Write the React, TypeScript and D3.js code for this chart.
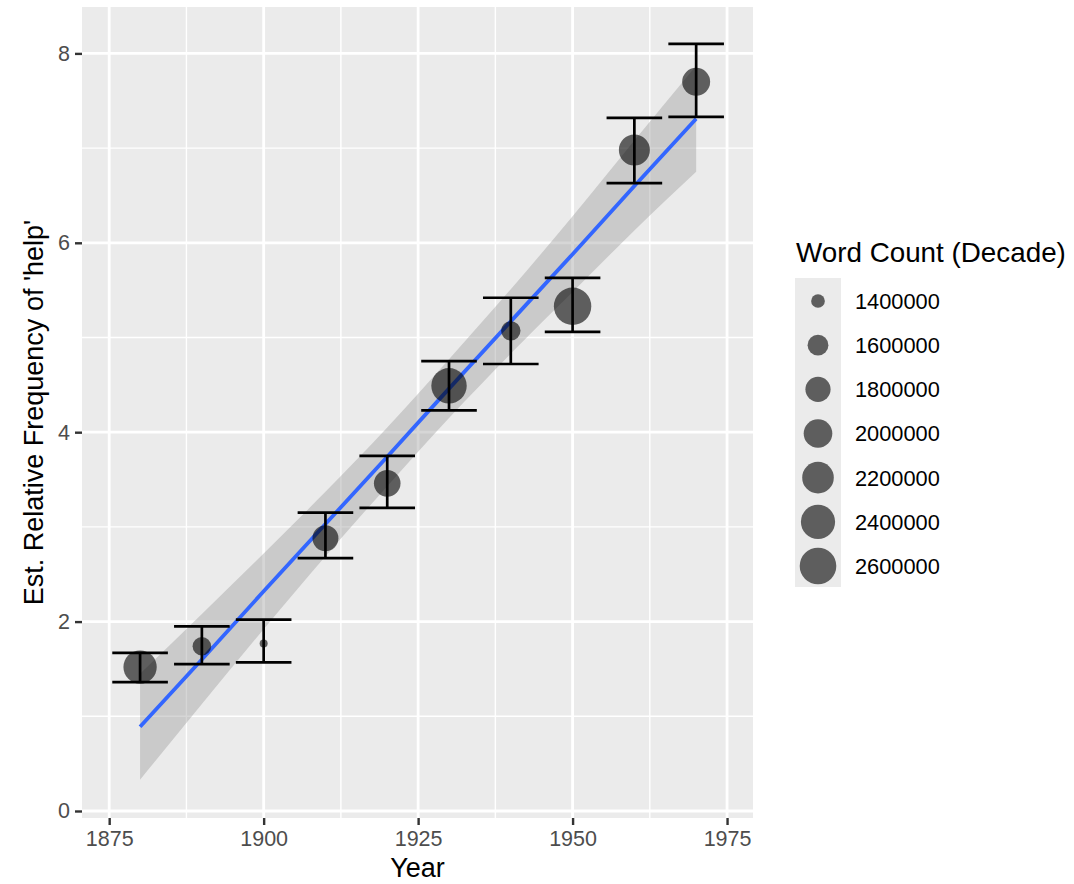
import React, { useRef, useEffect } from 'react';
import * as d3 from 'd3';

// decade estimates
const years = [1880, 1890, 1900, 1910, 1920, 1930, 1940, 1950, 1960, 1970];
const freq = [1.52, 1.74, 1.77, 2.88, 3.46, 4.49, 5.07, 5.33, 6.98, 7.70];
const errLow = [1.36, 1.55, 1.57, 2.67, 3.20, 4.23, 4.72, 5.06, 6.63, 7.33];
const errHigh = [1.67, 1.95, 2.02, 3.15, 3.75, 4.75, 5.42, 5.63, 7.32, 8.10];
const wordCount = [2330000, 1520000, 1350000, 1840000, 1880000, 2500000, 1550000, 2670000, 2160000, 1960000];

// lm smooth (fit and confidence band)
const smoothYears = [1880, 1890, 1900, 1910, 1920, 1930, 1940, 1950, 1960, 1970];
const smoothFit = [0.89, 1.6, 2.32, 3.03, 3.74, 4.46, 5.17, 5.88, 6.6, 7.31];
const smoothLower = [0.33, 1.13, 1.92, 2.69, 3.43, 4.15, 4.83, 5.48, 6.13, 6.75];
const smoothUpper = [1.45, 2.08, 2.72, 3.37, 4.05, 4.77, 5.51, 6.28, 7.08, 7.87];

const xTicks = [1875, 1900, 1925, 1950, 1975];
const xMinor = [1887.5, 1912.5, 1937.5, 1962.5];
const yTicks = [0, 2, 4, 6, 8];
const yMinor = [1, 3, 5, 7];
const sizeBreaks = [1400000, 1600000, 1800000, 2000000, 2200000, 2400000, 2600000];

const FONT = "'Liberation Sans', Arial, Helvetica, sans-serif";

const App = () => {
  const ref = useRef<SVGSVGElement>(null);

  useEffect(() => {
    const svg = d3.select(ref.current);
    svg.selectAll('*').remove();
    svg.attr('width', 1074).attr('height', 884).style('font-family', FONT);

    const left = 82, right = 753, top = 7, bottom = 818;

    const x = d3.scaleLinear().domain([1870.6, 1979.2]).range([left, right]);
    const y = d3.scaleLinear().domain([-0.074, 8.49]).range([bottom, top]);

    const sizeT = d3.scaleLinear().domain([1350000, 2670000]).range([0, 1]).clamp(true);
    const rScale = d3.scaleLinear().domain([0, 1]).range([4, 18.7]);
    const radius = (v: number) => rScale(Math.sqrt(sizeT(v)));

    // panel
    svg.append('rect')
      .attr('x', left).attr('y', top)
      .attr('width', right - left).attr('height', bottom - top)
      .attr('fill', '#EBEBEB');

    const grid = svg.append('g');
    xMinor.forEach((v) => {
      grid.append('line').attr('x1', x(v)).attr('x2', x(v)).attr('y1', top).attr('y2', bottom)
        .attr('stroke', '#fff').attr('stroke-width', 1.4);
    });
    yMinor.forEach((v) => {
      grid.append('line').attr('x1', left).attr('x2', right).attr('y1', y(v)).attr('y2', y(v))
        .attr('stroke', '#fff').attr('stroke-width', 1.4);
    });
    xTicks.forEach((v) => {
      grid.append('line').attr('x1', x(v)).attr('x2', x(v)).attr('y1', top).attr('y2', bottom)
        .attr('stroke', '#fff').attr('stroke-width', 2.8);
    });
    yTicks.forEach((v) => {
      grid.append('line').attr('x1', left).attr('x2', right).attr('y1', y(v)).attr('y2', y(v))
        .attr('stroke', '#fff').attr('stroke-width', 2.8);
    });

    // smooth band + line
    const band = d3.area<number>()
      .x((d, i) => x(smoothYears[i]))
      .y0((d, i) => y(smoothLower[i]))
      .y1((d, i) => y(smoothUpper[i]))
      .curve(d3.curveMonotoneX);
    svg.append('path').datum(smoothYears)
      .attr('d', band)
      .attr('fill', '#999999').attr('fill-opacity', 0.4);

    const line = d3.line<number>()
      .x((d, i) => x(smoothYears[i]))
      .y((d, i) => y(smoothFit[i]));
    svg.append('path').datum(smoothYears)
      .attr('d', line)
      .attr('fill', 'none').attr('stroke', '#3366FF').attr('stroke-width', 3.8);

    // points
    years.forEach((yr, i) => {
      svg.append('circle')
        .attr('cx', x(yr)).attr('cy', y(freq[i]))
        .attr('r', radius(wordCount[i]))
        .attr('fill', '#000').attr('fill-opacity', 0.6);
    });

    // error bars
    const eb = svg.append('g').attr('stroke', '#000').attr('stroke-width', 2.7).attr('fill', 'none');
    years.forEach((yr, i) => {
      eb.append('line').attr('x1', x(yr - 4.5)).attr('x2', x(yr + 4.5))
        .attr('y1', y(errHigh[i])).attr('y2', y(errHigh[i]));
      eb.append('line').attr('x1', x(yr - 4.5)).attr('x2', x(yr + 4.5))
        .attr('y1', y(errLow[i])).attr('y2', y(errLow[i]));
      eb.append('line').attr('x1', x(yr)).attr('x2', x(yr))
        .attr('y1', y(errHigh[i])).attr('y2', y(errLow[i]));
    });

    // axes
    const xAxis = d3.axisBottom(x).tickValues(xTicks).tickSize(7).tickPadding(6).tickFormat(d3.format('d'));
    const gx = svg.append('g').attr('transform', `translate(0,${bottom})`).call(xAxis);
    gx.select('.domain').remove();
    gx.selectAll('line').attr('stroke', '#333').attr('stroke-width', 2.4);
    gx.selectAll('text').attr('font-size', '21.5px').attr('fill', '#4D4D4D').attr('font-family', FONT);

    const yAxis = d3.axisLeft(y).tickValues(yTicks).tickSize(7).tickPadding(5);
    const gy = svg.append('g').attr('transform', `translate(${left},0)`).call(yAxis);
    gy.select('.domain').remove();
    gy.selectAll('line').attr('stroke', '#333').attr('stroke-width', 2.4);
    gy.selectAll('text').attr('font-size', '21.5px').attr('fill', '#4D4D4D').attr('font-family', FONT);

    svg.append('text')
      .attr('x', (left + right) / 2).attr('y', 877)
      .attr('text-anchor', 'middle').attr('font-size', '27px').attr('fill', '#000')
      .text('Year');

    svg.append('text')
      .attr('transform', `translate(43,${(top + bottom) / 2}) rotate(-90)`)
      .attr('text-anchor', 'middle').attr('font-size', '27px').attr('fill', '#000')
      .text("Est. Relative Frequency of 'help'");

    // legend
    const lg = svg.append('g');
    lg.append('text').attr('x', 796).attr('y', 262)
      .attr('font-size', '27.8px').attr('fill', '#000')
      .text('Word Count (Decade)');
    lg.append('rect').attr('x', 795).attr('y', 278).attr('width', 46).attr('height', 309)
      .attr('fill', '#EBEBEB');
    const keyY = d3.scalePoint<number>().domain(sizeBreaks).range([301, 566]);
    sizeBreaks.forEach((b) => {
      lg.append('circle').attr('cx', 818).attr('cy', keyY(b)!)
        .attr('r', radius(b)).attr('fill', '#000').attr('fill-opacity', 0.6);
      lg.append('text').attr('x', 855).attr('y', keyY(b)!)
        .attr('dy', '0.36em').attr('font-size', '21.8px').attr('fill', '#000')
        .text(String(b));
    });
  }, []);

  return <svg ref={ref} style={{ position: 'absolute', left: 0, top: 0 }}></svg>;
};

export default App;
